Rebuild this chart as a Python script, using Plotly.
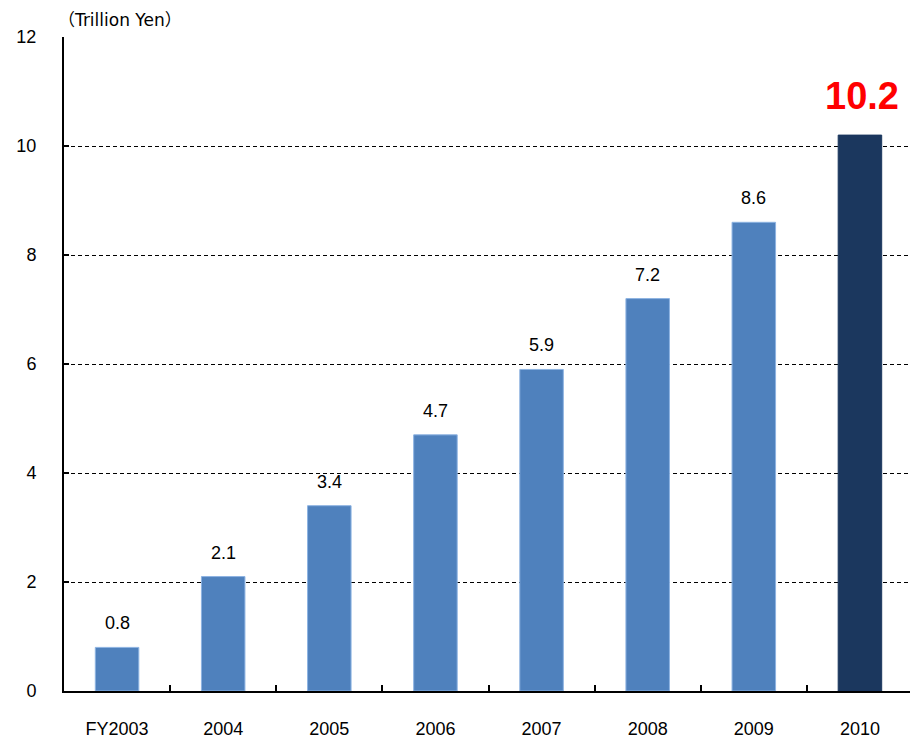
import plotly.graph_objects as go

categories = ["FY2003", "2004", "2005", "2006", "2007", "2008", "2009", "2010"]
values = [0.8, 2.1, 3.4, 4.7, 5.9, 7.2, 8.6, 10.2]
labels = ["0.8", "2.1", "3.4", "4.7", "5.9", "7.2", "8.6", "<b>10.2</b>"]
bar_colors = ["#4F81BD"] * 7 + ["#1B375E"]
edge_colors = ["#8DB3E2"] * 7 + ["#1B375E"]
y_ticks = [0, 2, 4, 6, 8, 10, 12]

FONT = "Liberation Sans, Arial, Noto Sans CJK JP, sans-serif"
TITLE_FONT = "DejaVu Sans, Noto Sans CJK JP, sans-serif"

pos = list(range(len(categories)))
boundaries = [p + 0.5 for p in pos]

fig = go.Figure()
fig.add_trace(go.Bar(
    x=pos, y=values,
    marker=dict(color=bar_colors, line=dict(color=edge_colors, width=1)),
    width=0.41,
    hoverinfo="skip",
))

for i, (p, v, t) in enumerate(zip(pos, values, labels)):
    last = i == len(categories) - 1
    fig.add_annotation(
        x=p, y=v, text=t, showarrow=False, yanchor="bottom",
        yshift=12 if not last else 16,
        font=dict(family=FONT, size=18 if not last else 38,
                  color="#FF0000" if last else "#000000"),
        xshift=0 if not last else 2,
    )

fig.add_annotation(
    xref="paper", yref="paper", x=0.0, y=1.0, xanchor="left", yanchor="bottom",
    text="（Trillion Yen）", showarrow=False, yshift=5, xshift=-8,
    font=dict(family=TITLE_FONT, size=17, color="#000000"),
)

fig.update_layout(
    width=910, height=732,
    margin=dict(l=56, r=5, t=29, b=49),
    paper_bgcolor="white", plot_bgcolor="white",
    showlegend=False,
    font=dict(family=FONT, size=18, color="#000000"),
)
fig.update_xaxes(
    range=[-0.5, 7.5], automargin=False,
    tickvals=pos, ticktext=categories, ticks="",
    showline=True, linecolor="#000000", linewidth=2,
    minor=dict(tickvals=boundaries, ticks="inside", ticklen=6,
               tickcolor="#000000", tickwidth=2, showgrid=False),
    tickfont=dict(family=FONT, size=18), showgrid=False, zeroline=False,
    ticklabelstandoff=20,
)
fig.update_yaxes(
    range=[0, 12], tickvals=y_ticks, automargin=False,
    showline=True, linecolor="#000000", linewidth=2,
    showgrid=True, gridcolor="#000000", griddash="4px,3px", gridwidth=1,
    tickfont=dict(family=FONT, size=18), ticks="inside", ticklen=5,
    tickwidth=2, tickcolor="#000000", ticklabelstandoff=22,
    zeroline=False,
)
# right border line
fig.add_shape(type="line", xref="paper", yref="paper", x0=1, x1=1, y0=0, y1=1,
              line=dict(color="#808080", width=2))

fig.write_html("out.html")
